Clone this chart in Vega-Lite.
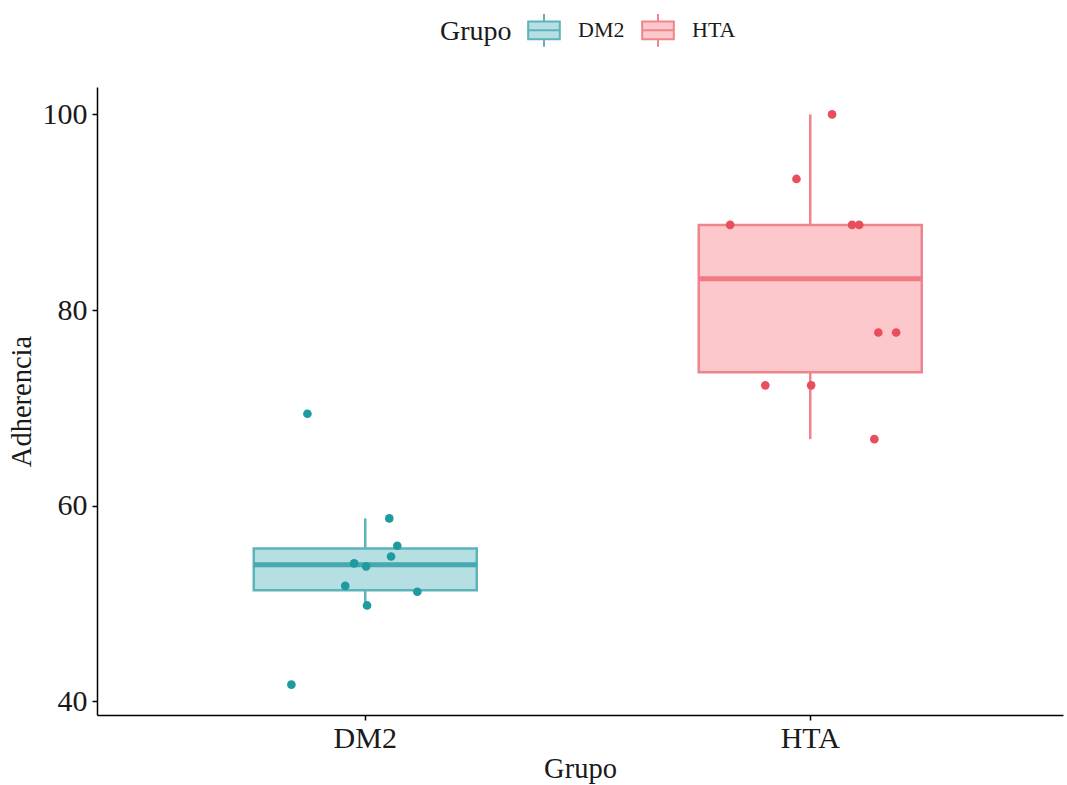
{
  "$schema": "https://vega.github.io/schema/vega-lite/v6.json",
  "width": 966,
  "height": 628,
  "autosize": {"type": "none"},
  "padding": {"left": 97, "top": 87, "right": 4, "bottom": 70},
  "background": "white",
  "config": {
    "view": {"stroke": null},
    "font": "Liberation Serif",
    "axis": {
      "domainColor": "black",
      "domainWidth": 1.5,
      "tickColor": "black",
      "tickSize": 5,
      "tickWidth": 1.5,
      "grid": false,
      "labelColor": "#1a1a1a",
      "titleColor": "#1a1a1a",
      "labelFont": "Liberation Serif",
      "titleFont": "Liberation Serif",
      "titleFontWeight": "normal",
      "labelFontSize": 30,
      "titleFontSize": 28.5
    },
    "legend": {
      "labelFont": "Liberation Serif",
      "titleFont": "Liberation Serif",
      "title": "Grupo",
      "orient": "none",
      "legendX": 343,
      "legendY": -74,
      "direction": "horizontal",
      "titleOrient": "left",
      "titleFontSize": 28,
      "titleFontWeight": "normal",
      "titleColor": "#1a1a1a",
      "titlePadding": 15,
      "labelFontSize": 22,
      "labelColor": "#1a1a1a",
      "symbolSize": 1000,
      "symbolStrokeWidth": 2,
      "columnPadding": 13,
      "labelOffset": 17
    }
  },
  "data": {
    "values": [
      {"Grupo": "DM2", "Adherencia": 69.4, "jitter": -0.130},
      {"Grupo": "DM2", "Adherencia": 58.7, "jitter": 0.054},
      {"Grupo": "DM2", "Adherencia": 55.9, "jitter": 0.072},
      {"Grupo": "DM2", "Adherencia": 54.8, "jitter": 0.058},
      {"Grupo": "DM2", "Adherencia": 54.1, "jitter": -0.025},
      {"Grupo": "DM2", "Adherencia": 53.8, "jitter": 0.002},
      {"Grupo": "DM2", "Adherencia": 51.8, "jitter": -0.045},
      {"Grupo": "DM2", "Adherencia": 51.2, "jitter": 0.117},
      {"Grupo": "DM2", "Adherencia": 49.8, "jitter": 0.004},
      {"Grupo": "DM2", "Adherencia": 41.7, "jitter": -0.166},
      {"Grupo": "HTA", "Adherencia": 100.0, "jitter": 0.049},
      {"Grupo": "HTA", "Adherencia": 93.4, "jitter": -0.031},
      {"Grupo": "HTA", "Adherencia": 88.7, "jitter": -0.180},
      {"Grupo": "HTA", "Adherencia": 88.7, "jitter": 0.094},
      {"Grupo": "HTA", "Adherencia": 88.7, "jitter": 0.110},
      {"Grupo": "HTA", "Adherencia": 77.7, "jitter": 0.153},
      {"Grupo": "HTA", "Adherencia": 77.7, "jitter": 0.193},
      {"Grupo": "HTA", "Adherencia": 72.3, "jitter": -0.101},
      {"Grupo": "HTA", "Adherencia": 72.3, "jitter": 0.002},
      {"Grupo": "HTA", "Adherencia": 66.8, "jitter": 0.144}
    ]
  },
  "encoding": {
    "x": {
      "field": "Grupo",
      "type": "nominal",
      "title": "Grupo",
      "scale": {"domain": ["DM2", "HTA"], "paddingInner": 0.5, "paddingOuter": 0.3354, "align": 0.526},
      "axis": {"labelAngle": 0, "labelPadding": 3, "titlePadding": 1}
    },
    "y": {
      "field": "Adherencia",
      "type": "quantitative",
      "title": "Adherencia",
      "scale": {"domain": [38.6, 102.8], "nice": false, "zero": false},
      "axis": {"values": [40, 60, 80, 100], "labelPadding": 5, "titlePadding": 6}
    }
  },
  "layer": [
    {
      "mark": {
        "type": "boxplot",
        "extent": 1.5,
        "size": 223,
        "outliers": false,
        "box": {"strokeWidth": 2.5, "fillOpacity": 1},
        "rule": {"strokeWidth": 2.5},
        "median": {"opacity": 0}
      },
      "encoding": {
        "color": {
          "field": "Grupo",
          "type": "nominal",
          "scale": {"domain": ["DM2", "HTA"], "range": ["#b5dfe2", "#fcc8cb"]},
          "legend": {"title": "Grupo", "symbolType": "M-1,-0.56H1V0.56H-1Z M-1,0H1 M0,-0.56V-1.03 M0,0.56V1.03"}
        },
        "stroke": {
          "field": "Grupo",
          "type": "nominal",
          "scale": {"domain": ["DM2", "HTA"], "range": ["#5cb4b9", "#ef858c"]},
          "legend": {"title": "Grupo", "symbolType": "M-1,-0.56H1V0.56H-1Z M-1,0H1 M0,-0.56V-1.03 M0,0.56V1.03"}
        }
      }
    },
    {
      "transform": [{"filter": "datum.Grupo === 'DM2'"}],
      "layer": [
        {
          "mark": {"type": "tick", "thickness": 5, "size": 223, "color": "#45a9af"},
          "encoding": {"y": {"aggregate": "median", "field": "Adherencia", "type": "quantitative"}}
        },
        {
          "mark": {"type": "circle", "size": 75, "opacity": 1, "color": "#1f9aa1"},
          "encoding": {"xOffset": {"field": "jitter", "type": "quantitative", "scale": {"domain": [-0.25, 0.25]}}}
        }
      ]
    },
    {
      "transform": [{"filter": "datum.Grupo === 'HTA'"}],
      "layer": [
        {
          "mark": {"type": "tick", "thickness": 5, "size": 223, "color": "#f27a82"},
          "encoding": {"y": {"aggregate": "median", "field": "Adherencia", "type": "quantitative"}}
        },
        {
          "mark": {"type": "circle", "size": 75, "opacity": 1, "color": "#e84e5c"},
          "encoding": {"xOffset": {"field": "jitter", "type": "quantitative", "scale": {"domain": [-0.25, 0.25]}}}
        }
      ]
    }
  ]
}
